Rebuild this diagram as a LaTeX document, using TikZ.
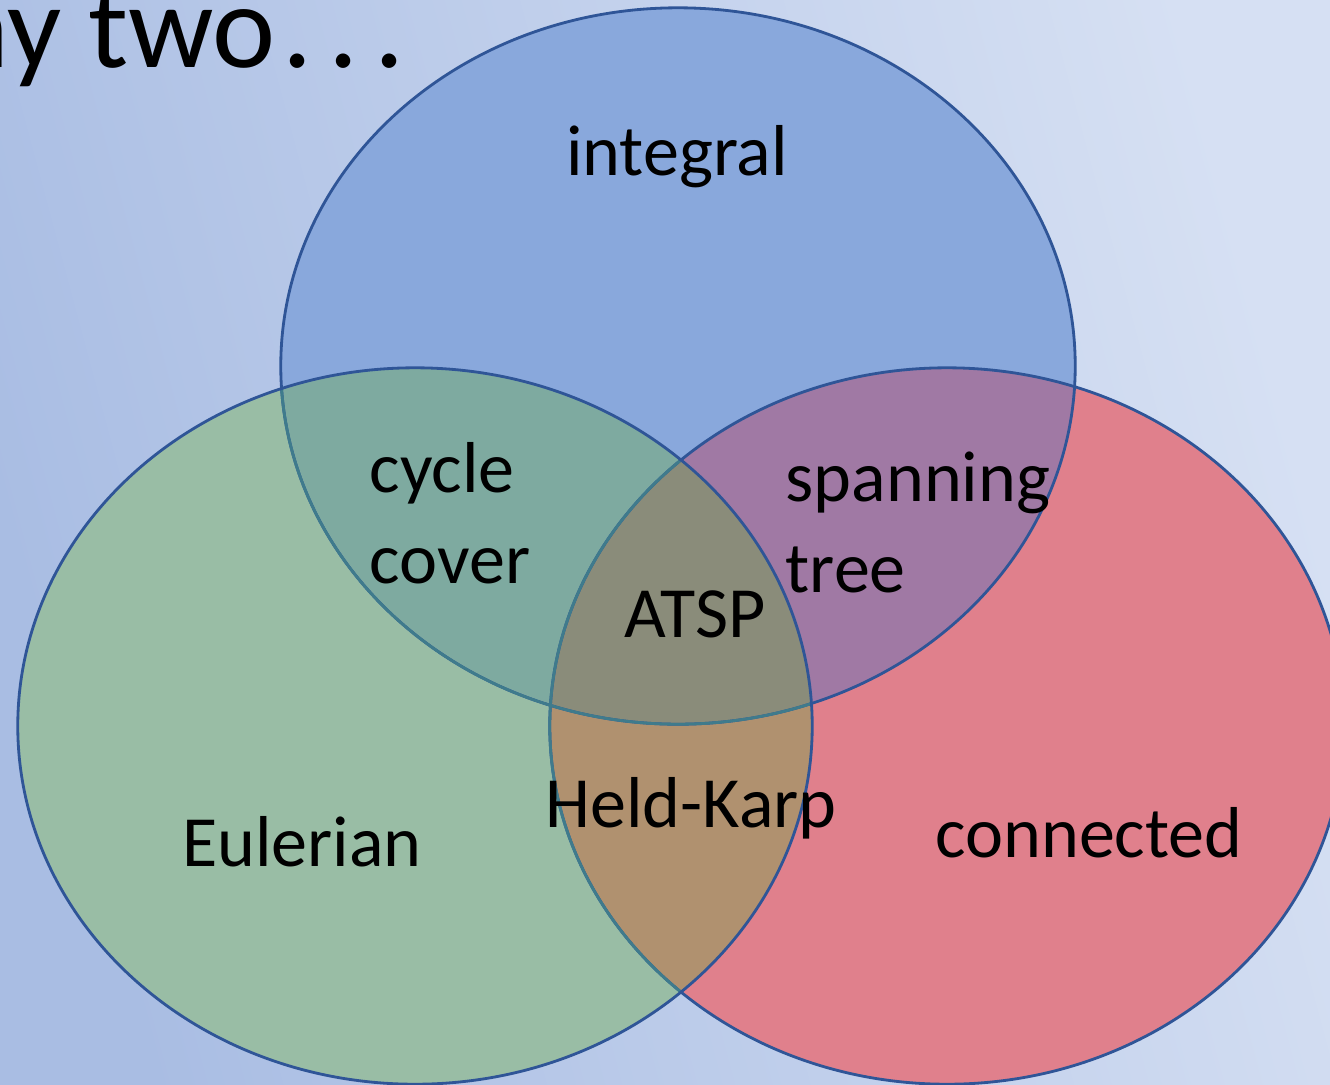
\documentclass[tikz,border=0pt]{standalone}
\usepackage{fontspec}
\setmainfont{Carlito}
\usetikzlibrary{positioning}
\definecolor{bgleft}{HTML}{A9BDE3}
\definecolor{bgright}{HTML}{D6E0F3}
\definecolor{edge}{HTML}{2F5597}
\definecolor{edgesoft}{HTML}{3F7B8C}
\definecolor{setint}{HTML}{89A8DC}
\definecolor{seteul}{HTML}{99BDA5}
\definecolor{setcon}{HTML}{E0808C}
\definecolor{intcyc}{HTML}{7EAAA0}
\definecolor{intspan}{HTML}{A079A4}
\definecolor{intheld}{HTML}{B0916F}
\definecolor{intall}{HTML}{8A8C7A}
\tikzset{
  rim/.style={draw=edge, line width=0.8pt},
  rimsoft/.style={draw=edgesoft, line width=0.8pt},
  lbl/.style={font=\fontsize{20.5}{25.6}\selectfont, text=black,
              inner sep=0pt, align=left},
}
\newcommand{\blob}[1]{(#1) ellipse [x radius=3.97cm, y radius=3.58cm]}

\begin{document}
\begin{tikzpicture}[x=0.01cm, y=-0.01cm]

  \useasboundingbox (0,0) rectangle (1330,1084);
  \shade[left color=bgleft, right color=bgright, shading angle=105]
    (0,0) rectangle (1330,1084);

  % --- set centres ---------------------------------------------------------
  \coordinate (int) at (678,366);
  \coordinate (eul) at (415,726);
  \coordinate (con) at (947,726);

  % --- plain sets ----------------------------------------------------------
  \fill[setint] \blob{int};
  \fill[setcon] \blob{con};
  \fill[seteul] \blob{eul};

  % --- pairwise and triple overlaps -----------------------------------------
  \begin{scope}
    \clip \blob{int};
    \fill[intcyc] \blob{eul};
    \fill[intspan] \blob{con};
  \end{scope}
  \begin{scope}
    \clip \blob{eul};
    \fill[intheld] \blob{con};
    \clip \blob{con};
    \fill[intall] \blob{int};
  \end{scope}

  % --- outlines ------------------------------------------------------------
  \draw[rim] \blob{int};
  \draw[rim] \blob{con};
  \begin{scope}
    \clip \blob{eul};
    \draw[rimsoft] \blob{int};
    \draw[rimsoft] \blob{con};
  \end{scope}
  \draw[rim] \blob{eul};

  % --- labels ----------------------------------------------------------------
  \node[anchor=base west, font=\fontsize{34}{40}\selectfont, inner sep=0pt]
    (title) at (-54,67) {ny two\kern2pt.\kern4.5pt.\kern4.5pt.};
  \node[lbl, anchor=base] (integral) at (677,175) {integral};
  \node[lbl, anchor=base west] (cycle) at (369,583) {cycle\\cover};
  \node[lbl, anchor=base west] (span) at (785,592) {spanning\\tree};
  \node[lbl, anchor=base] (atsp) at (695,637) {ATSP};
  \node[lbl, anchor=base] (held) at (691,827) {Held-Karp};
  \node[lbl, anchor=base] (euler) at (302,866) {Eulerian};
  \node[lbl, anchor=base] (conn) at (1089,857) {connected};

\end{tikzpicture}
\end{document}
